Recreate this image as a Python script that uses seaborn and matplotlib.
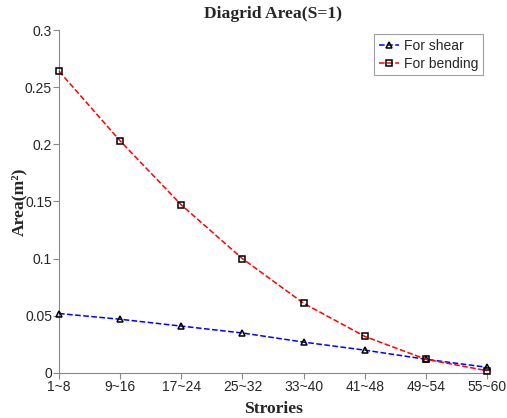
import matplotlib
matplotlib.use("Agg")
import matplotlib.pyplot as plt
import seaborn as sns
import numpy as np
import pandas as pd

stories = ["1~8", "9~16", "17~24", "25~32", "33~40", "41~48", "49~54", "55~60"]
shear = [0.052, 0.047, 0.041, 0.035, 0.027, 0.020, 0.012, 0.005]
bending = [0.264, 0.203, 0.147, 0.100, 0.061, 0.032, 0.012, 0.002]

sns.set_style("white")
plt.rcParams['font.family'] = ['Liberation Sans', 'DejaVu Sans']

fig = plt.figure(figsize=(5.07, 4.18), dpi=100)
ax = fig.add_axes([0.1164, 0.1077, 0.8442, 0.8205])

pos = np.arange(len(stories))
df = pd.DataFrame({"pos": np.concatenate([pos, pos]),
                   "area": shear + bending,
                   "series": ["For shear"] * len(stories) + ["For bending"] * len(stories)})

sns.lineplot(data=df[df.series == "For shear"], x="pos", y="area", ax=ax,
             color="#0000ff", linestyle="--", linewidth=1.1, marker="^",
             markersize=5, markerfacecolor="none", markeredgecolor="black",
             markeredgewidth=1.1, label="For shear", clip_on=False, zorder=3)
sns.lineplot(data=df[df.series == "For bending"], x="pos", y="area", ax=ax,
             color="#ff0000", linestyle="--", linewidth=1.1, marker="s",
             markersize=5, markerfacecolor="none", markeredgecolor="black",
             markeredgewidth=1.1, label="For bending", clip_on=False, zorder=3)

ax.set_xlim(0, len(stories) - 1)
ax.set_ylim(0, 0.3)
ax.set_xticks(pos)
ax.set_xticklabels(stories)
ax.set_yticks([0, 0.05, 0.1, 0.15, 0.2, 0.25, 0.3])
ax.set_yticklabels(["0", "0.05", "0.1", "0.15", "0.2", "0.25", "0.3"])
ax.tick_params(axis="both", labelsize=10, direction="out", length=4,
               width=0.8, color="#888888", pad=1, bottom=True, left=True)
for s in ["top", "right"]:
    ax.spines[s].set_visible(False)
for s in ["left", "bottom"]:
    ax.spines[s].set_color("#888888")
    ax.spines[s].set_linewidth(0.8)

serif = ['Liberation Serif', 'DejaVu Serif']
ax.set_title("Diagrid Area(S=1)", fontsize=12.6, fontweight="bold", family=serif, pad=9)
ax.set_xlabel("Strories", fontsize=12.6, fontweight="bold", family=serif, labelpad=5)
ax.set_ylabel("Area(m²)", fontsize=12.6, fontweight="bold", family=serif)
ax.yaxis.set_label_coords(-0.075, 0.5)

leg = ax.legend(loc="upper right", fontsize=10, frameon=True, fancybox=False,
                handlelength=1.5, handletextpad=0.3, borderpad=0.35,
                labelspacing=0.25, borderaxespad=0.3)
leg.get_frame().set_edgecolor("#888888")
leg.get_frame().set_linewidth(0.8)

fig.savefig("out.png", dpi=100)
